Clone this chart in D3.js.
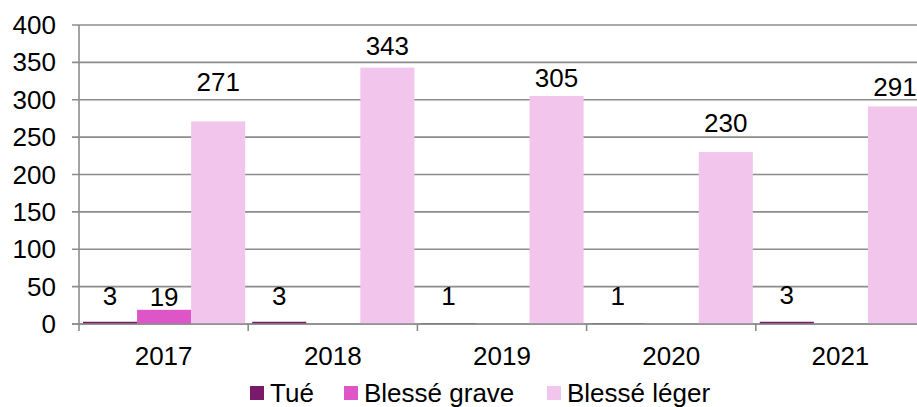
<!DOCTYPE html>
<html lang="fr">
<head>
    <meta charset="UTF-8">
    <title>Victimes par année</title>
    <script src="https://d3js.org/d3.v7.min.js"></script>
    <style>
        body {
            margin: 0;
            background-color: #fff;
            font-family: "Liberation Sans", Arial, sans-serif;
        }
        .grid line {
            stroke: #8c8c8c;
            stroke-width: 1.6px;
        }
        .axis-text {
            font-size: 26px;
            fill: #000;
        }
        .value-label {
            font-size: 26px;
            fill: #000;
            text-anchor: middle;
        }
    </style>
</head>
<body>
    <div id="chart"></div>

    <script>
        // Data
        const years = ["2017", "2018", "2019", "2020", "2021"];
        const series = ["Tué", "Blessé grave", "Blessé léger"];
        const tue = [3, 3, 1, 1, 3];
        const blesseGrave = [19, null, null, null, null];
        const blesseLeger = [271, 343, 305, 230, 291];
        const yTicks = [0, 50, 100, 150, 200, 250, 300, 350, 400];
        const colors = ["#7a1a6b", "#dd55c7", "#f2c5ec"];

        // label distance above bar top (px), labels were hand placed in the original
        const labelLift = [
            [17, 17, 18, 18, 18],
            [4, 0, 0, 0, 0],
            [30, 13, 9, 20, 10]
        ];

        const values = [tue, blesseGrave, blesseLeger];

        const W = 917, H = 407;
        const plotLeft = 79, plotBottom = 324, plotTop = 25;
        const band = 169.2;

        const svg = d3.select('#chart')
            .append('svg')
            .attr('width', W)
            .attr('height', H);

        const x0 = d3.scaleBand()
            .domain(years)
            .range([plotLeft, plotLeft + band * years.length]);
        const x1 = d3.scaleBand()
            .domain(series)
            .range([4, band - 3]);
        const y = d3.scaleLinear()
            .domain([0, 400])
            .range([plotBottom, plotTop]);

        // gridlines
        svg.append('g')
            .attr('class', 'grid')
            .selectAll('line')
            .data(yTicks)
            .enter().append('line')
            .attr('x1', plotLeft - 7)
            .attr('x2', W)
            .attr('y1', d => y(d))
            .attr('y2', d => y(d));

        // y tick labels
        svg.append('g')
            .selectAll('text')
            .data(yTicks)
            .enter().append('text')
            .attr('class', 'axis-text')
            .attr('text-anchor', 'end')
            .attr('x', 56)
            .attr('y', d => y(d) + 9)
            .text(d => d);

        // bars
        const rows = [];
        series.forEach((s, i) => {
            years.forEach((yr, j) => {
                rows.push({ s: s, si: i, yr: yr, yi: j, v: values[i][j] });
            });
        });
        const present = rows.filter(d => d.v !== null);

        svg.append('g')
            .selectAll('rect')
            .data(present)
            .enter().append('rect')
            .attr('x', d => x0(d.yr) + x1(d.s))
            .attr('width', x1.bandwidth())
            .attr('y', d => y(d.v))
            .attr('height', d => y(0) - y(d.v))
            .attr('fill', d => colors[d.si]);

        // axes lines (drawn over bars)
        svg.append('line')
            .attr('x1', plotLeft).attr('x2', plotLeft)
            .attr('y1', plotTop).attr('y2', plotBottom + 7)
            .attr('stroke', '#8c8c8c').attr('stroke-width', 1.6);
        svg.append('line')
            .attr('x1', plotLeft - 7).attr('x2', W)
            .attr('y1', plotBottom).attr('y2', plotBottom)
            .attr('stroke', '#8c8c8c').attr('stroke-width', 1.6);
        svg.append('g')
            .selectAll('line')
            .data(years.slice(1))
            .enter().append('line')
            .attr('x1', d => x0(d)).attr('x2', d => x0(d))
            .attr('y1', plotBottom).attr('y2', plotBottom + 7)
            .attr('stroke', '#8c8c8c').attr('stroke-width', 1.6);

        // category labels
        svg.append('g')
            .selectAll('text')
            .data(years)
            .enter().append('text')
            .attr('class', 'axis-text')
            .attr('text-anchor', 'middle')
            .attr('x', d => x0(d) + band / 2)
            .attr('y', 365)
            .text(d => d);

        // value labels
        svg.append('g')
            .selectAll('text')
            .data(present)
            .enter().append('text')
            .attr('class', 'value-label')
            .attr('x', d => x0(d.yr) + x1(d.s) + x1.bandwidth() / 2)
            .attr('y', d => y(d.v) - labelLift[d.si][d.yi])
            .text(d => d.v);

        // legend
        const legendX = [250, 344, 547];
        const legend = svg.append('g')
            .selectAll('g')
            .data(series)
            .enter().append('g')
            .attr('transform', (d, i) => `translate(${legendX[i]}, 0)`);
        legend.append('rect')
            .attr('y', 386)
            .attr('width', 14)
            .attr('height', 14)
            .attr('fill', (d, i) => colors[i]);
        legend.append('text')
            .attr('class', 'axis-text')
            .attr('x', 20)
            .attr('y', 402)
            .text(d => d);
    </script>
</body>
</html>
